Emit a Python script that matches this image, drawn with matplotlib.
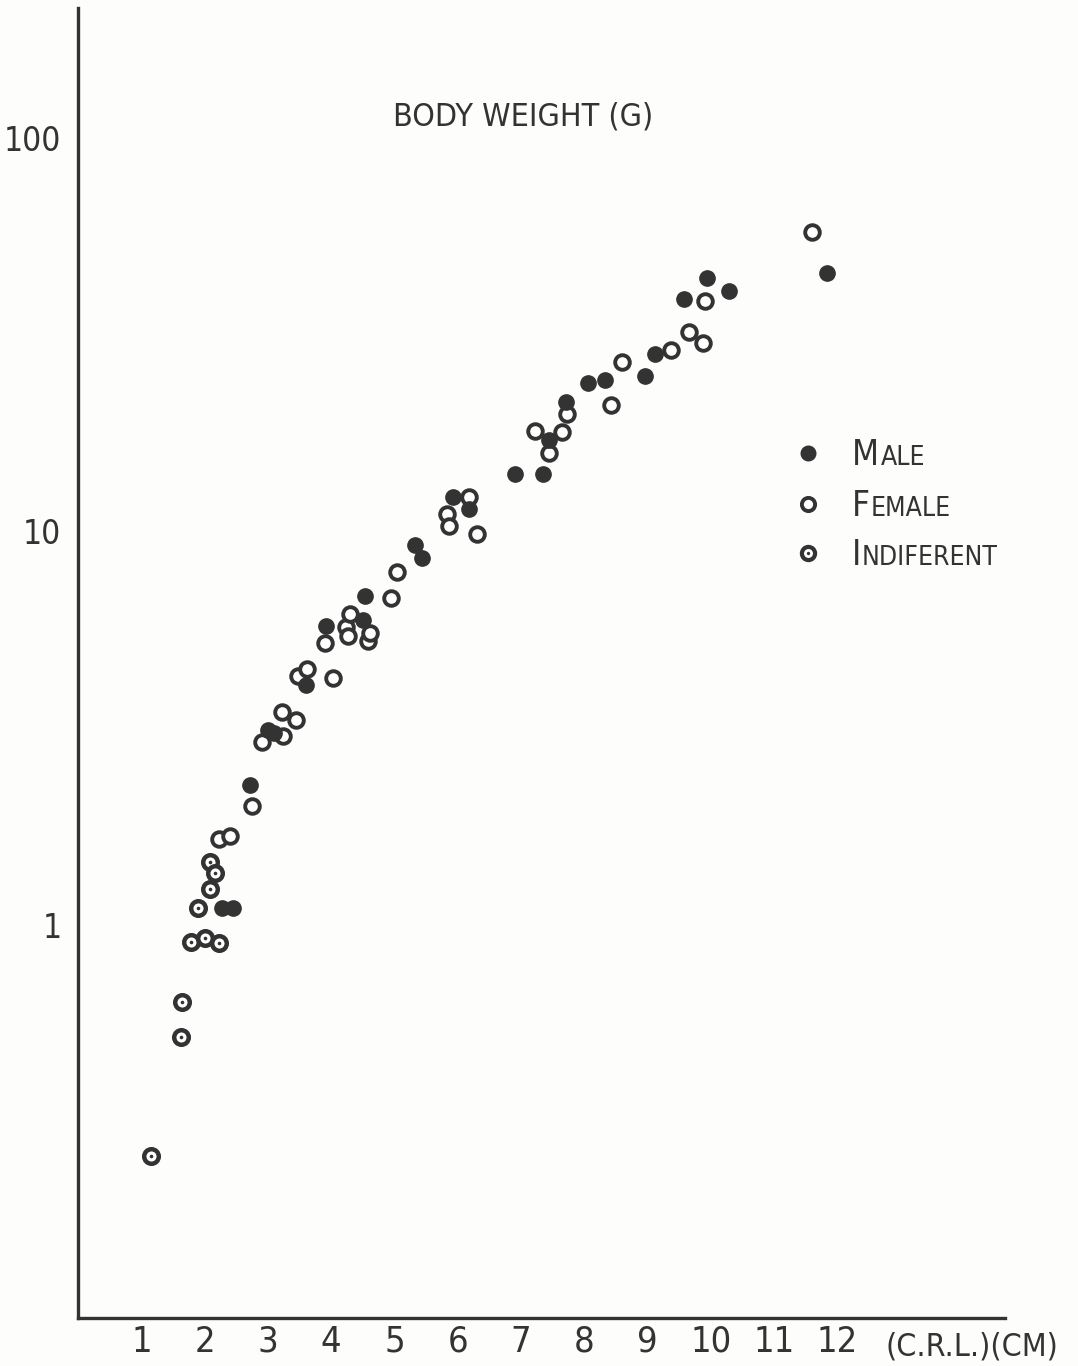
import matplotlib
matplotlib.use("Agg")
import matplotlib.pyplot as plt
from matplotlib import font_manager

# ---- data (C.R.L. in cm, body weight in g) ----
male_crl = [2.28, 2.45, 2.72, 3.00, 3.10, 3.60, 3.92, 4.50, 4.53, 5.32, 5.43, 5.92,
            6.18, 6.90, 7.35, 7.44, 7.71, 8.06, 8.32, 8.96, 9.12, 9.57, 9.93, 10.28, 11.84]
male_wt = [1.10, 1.10, 2.26, 3.13, 3.08, 4.08, 5.73, 5.94, 6.83, 9.21, 8.54, 12.2,
           11.4, 13.96, 13.96, 17.05, 21.3, 23.9, 24.2, 24.8, 28.2, 38.9, 44.0, 40.8, 45.3]

female_crl = [2.23, 2.40, 2.75, 2.90, 3.24, 3.22, 3.45, 3.48, 3.62, 4.03, 3.90, 4.23,
              4.30, 4.27, 4.58, 4.61, 4.94, 5.04, 5.83, 5.86, 6.18, 6.30, 7.22, 7.44,
              7.65, 7.73, 8.42, 8.60, 9.37, 9.65, 9.87, 9.90, 11.60]
female_wt = [1.655, 1.68, 2.00, 2.92, 3.01, 3.48, 3.32, 4.30, 4.48, 4.25, 5.19, 5.70,
             6.15, 5.41, 5.25, 5.53, 6.76, 7.87, 11.1, 10.3, 12.2, 9.83, 17.97, 15.8,
             17.9, 19.9, 20.9, 26.9, 28.9, 32.1, 30.1, 38.5, 57.6]

indif_crl = [1.16, 1.64, 1.63, 1.79, 2.01, 2.22, 1.89, 2.08, 2.08, 2.16]
indif_wt = [0.258, 0.637, 0.519, 0.905, 0.927, 0.90, 1.10, 1.235, 1.44, 1.35]

x_ticks = [1, 2, 3, 4, 5, 6, 7, 8, 9, 10, 11, 12]
x_tick_labels = [str(v) for v in x_ticks]
y_ticks = [1, 10, 100]
y_tick_labels = ["1", "10", "100"]

title = "BODY WEIGHT (G)"
x_unit = "(C.R.L.)(CM)"
legend_labels = [("M", "ALE"), ("F", "EMALE"), ("I", "NDIFERENT")]

# ---- style ----
installed = {f.name for f in font_manager.fontManager.ttflist}
fam = "Liberation Sans Narrow" if "Liberation Sans Narrow" in installed else "DejaVu Sans"
plt.rcParams["font.family"] = [fam, "DejaVu Sans"]
plt.rcParams["font.stretch"] = "condensed"
ink = "#333333"
bg = "#fdfdfb"

fig = plt.figure(figsize=(10.78, 13.66), dpi=100, facecolor=bg)
ax = fig.add_axes([0.0724, 0.0351, 0.932 - 0.0724, 0.9941 - 0.0351], facecolor=bg)
ax.set_yscale("log")
ax.set_xlim(0, 14.64)
ax.set_ylim(0.1, 214)

for s in ["top", "right"]:
    ax.spines[s].set_visible(False)
for s in ["left", "bottom"]:
    ax.spines[s].set_linewidth(2.4)
    ax.spines[s].set_color(ink)

ax.set_xticks(x_ticks)
ax.set_xticklabels(x_tick_labels)
ax.set_yticks(y_ticks)
ax.set_yticklabels(y_tick_labels)
ax.minorticks_off()
ax.tick_params(axis="both", length=0, colors=ink, labelsize=26)
ax.tick_params(axis="y", labelsize=24, pad=12)
ax.tick_params(axis="x", pad=5)

ms = 10.5
mew = 2.8
ax.plot(female_crl, female_wt, "o", ms=ms, mfc="white", mec=ink, mew=mew, ls="none", zorder=3)
ax.plot(indif_crl, indif_wt, "o", ms=ms, mfc="white", mec=ink, mew=3.2, ls="none", zorder=3)
ax.plot(indif_crl, indif_wt, "o", ms=2.6, mfc=ink, mec=ink, mew=0, ls="none", zorder=4)
ax.plot(male_crl, male_wt, "o", ms=ms + 0.5, mfc=ink, mec=ink, mew=1, ls="none", zorder=5)

# title
ax.text(7.03, 10 ** (2.0 + (138 - 117) / 393), title, ha="center", va="center",
        fontsize=23, color=ink)

# unit label beside x ticks
ax.text(14.13, -0.010, x_unit, transform=ax.get_xaxis_transform(), ha="center", va="top",
        fontsize=23, color=ink, clip_on=False)

# legend (hand placed, small caps)
leg_x_marker = 11.53
leg_x_text = 12.22
leg_y = [10 ** (1 + (531 - 453) / 393), 10 ** (1 + (531 - 504) / 393), 10 ** (1 + (531 - 553) / 393)]
ax.plot([leg_x_marker], [leg_y[0]], "o", ms=ms, mfc=ink, mec=ink, mew=1, clip_on=False)
ax.plot([leg_x_marker], [leg_y[1]], "o", ms=ms - 1, mfc="white", mec=ink, mew=mew, clip_on=False)
ax.plot([leg_x_marker], [leg_y[2]], "o", ms=ms - 1, mfc="white", mec=ink, mew=3.0, clip_on=False)
ax.plot([leg_x_marker], [leg_y[2]], "o", ms=2.4, mfc=ink, mec=ink, mew=0, clip_on=False)
for (first, rest), yv in zip(legend_labels, leg_y):
    yb = yv / 10 ** (12 / 393)
    t1 = ax.text(leg_x_text, yb, first, ha="left", va="baseline", fontsize=25, color=ink)
    ax.annotate(rest, xy=(1.08, yb), xycoords=(t1, "data"), ha="left", va="baseline",
                fontsize=19, color=ink)

fig.savefig("out.png", dpi=100, facecolor=bg)
